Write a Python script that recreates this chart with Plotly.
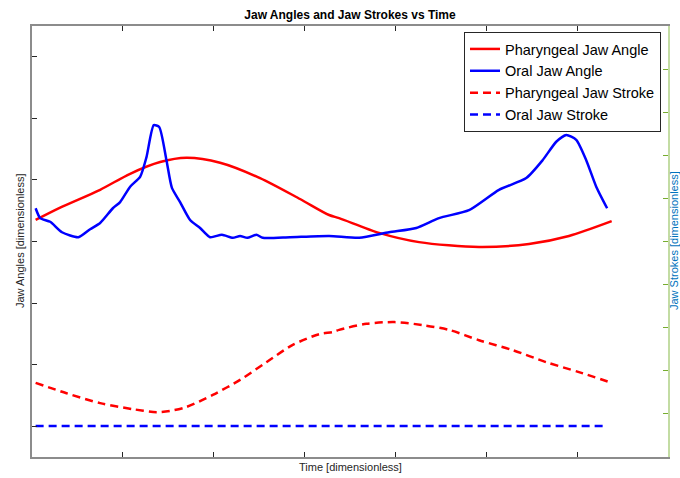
import plotly.graph_objects as go

# Time in tick units (ticks at 1..6)
t_pha = [0.04, 0.31, 0.75, 1.08, 1.41, 1.70, 2.07, 2.51, 2.95, 3.27, 3.38, 3.82, 4.26, 4.92, 5.47, 5.91, 6.38]
pha_angle = [3.35, 3.55, 3.84, 4.10, 4.29, 4.36, 4.28, 4.03, 3.69, 3.43, 3.38, 3.14, 2.99, 2.91, 2.96, 3.09, 3.33]

t_oral = [0.04, 0.09, 0.20, 0.33, 0.51, 0.64, 0.75, 0.89, 0.97, 1.08, 1.19, 1.26, 1.34, 1.40, 1.48, 1.54,
          1.63, 1.74, 1.85, 1.96, 2.09, 2.21, 2.29, 2.37, 2.47, 2.54, 2.84, 3.27, 3.60, 3.93, 4.23, 4.48,
          4.81, 5.14, 5.44, 5.62, 5.77, 5.88, 5.99, 6.10, 6.21, 6.33]
oral_angle = [3.54, 3.38, 3.32, 3.15, 3.07, 3.20, 3.30, 3.54, 3.64, 3.89, 4.05, 4.37, 4.89, 4.86, 4.32, 3.87,
              3.64, 3.35, 3.22, 3.07, 3.11, 3.06, 3.09, 3.06, 3.11, 3.06, 3.07, 3.09, 3.06, 3.15, 3.22, 3.38,
              3.51, 3.84, 4.03, 4.32, 4.62, 4.73, 4.65, 4.32, 3.89, 3.54]

t_pstroke = [0.04, 0.38, 0.75, 1.11, 1.37, 1.52, 1.70, 1.99, 2.29, 2.58, 2.87, 3.16, 3.31, 3.38, 3.68, 3.99,
             4.30, 4.59, 4.92, 5.29, 5.66, 6.02, 6.38]
pha_stroke = [1.72, 1.48, 1.25, 1.11, 1.04, 1.07, 1.16, 1.44, 1.79, 2.20, 2.60, 2.85, 2.90, 2.95, 3.09, 3.13,
              3.06, 2.95, 2.71, 2.48, 2.20, 1.97, 1.72]

t_ostroke = [0.04, 6.33]
oral_stroke = [0.72, 0.72]

FONT = "Liberation Sans, Arial, sans-serif"
RED = "#FF0000"
BLUE = "#0000FF"

fig = go.Figure()
fig.add_trace(go.Scatter(x=t_pha, y=pha_angle, mode="lines", name="Pharyngeal Jaw Angle",
                         line=dict(color=RED, width=2.5, shape="spline", smoothing=0.8)))
fig.add_trace(go.Scatter(x=t_oral, y=oral_angle, mode="lines", name="Oral Jaw Angle",
                         line=dict(color=BLUE, width=2.5, shape="spline", smoothing=0.6)))
fig.add_trace(go.Scatter(x=t_pstroke, y=pha_stroke, mode="lines", name="Pharyngeal Jaw Stroke", yaxis="y2",
                         line=dict(color=RED, width=2.5, dash="8px,5px", shape="spline", smoothing=0.8)))
fig.add_trace(go.Scatter(x=t_ostroke, y=oral_stroke, mode="lines", name="Oral Jaw Stroke", yaxis="y2",
                         line=dict(color=BLUE, width=2.5, dash="8px,5px")))

fig.update_layout(
    width=680, height=478,
    margin=dict(l=32, r=12, t=26, b=21, autoexpand=False),
    paper_bgcolor="white", plot_bgcolor="white",
    font=dict(family=FONT, color="#262626"),
    showlegend=True,
    title=dict(text="<b>Jaw Angles and Jaw Strokes vs Time</b>", x=(350 / 680), xanchor="center",
               y=1 - 15 / 478, yanchor="middle", font=dict(size=12, color="#000000", family=FONT)),
    xaxis=dict(range=[0, 7], tickvals=[1, 2, 3, 4, 5, 6], showticklabels=False, ticks="inside",
               ticklen=5, tickcolor="#262626", showgrid=False, zeroline=False, showline=True,
               linecolor="#8c8c8c", linewidth=1.5, mirror="ticks"),
    yaxis=dict(range=[-0.5, 6.5], tickvals=[0, 1, 2, 3, 4, 5, 6], showticklabels=False, ticks="inside",
               ticklen=5, tickcolor="#262626", showgrid=False, zeroline=False, showline=True,
               linecolor="#8c8c8c", linewidth=1.5),
    yaxis2=dict(range=[0, 10], tickvals=[1, 2, 3, 4, 5, 6, 7, 8, 9], showticklabels=False, ticks="inside",
                ticklen=5, tickcolor="#77AC30", showgrid=False, zeroline=False, showline=True,
                linecolor="#c3dca3", linewidth=1.5, overlaying="y", side="right"),
    legend=dict(x=(661 - 32) / 636, y=(457 - 32) / 431, xanchor="right", yanchor="top",
                bgcolor="white", bordercolor="#262626", borderwidth=1,
                font=dict(size=14.5, color="#000000", family=FONT), tracegroupgap=0),
    annotations=[
        dict(text="Time [dimensionless]", xref="paper", yref="paper", x=(350 - 32) / 636,
             y=(457 - 467) / 431, xanchor="center", yanchor="middle", showarrow=False,
             font=dict(size=11, color="#262626", family=FONT)),
        dict(text="Jaw Angles [dimensionless]", xref="paper", yref="paper", x=(20 - 32) / 636,
             y=(457 - 241) / 431, xanchor="center", yanchor="middle", showarrow=False, textangle=-90,
             font=dict(size=11, color="#262626", family=FONT)),
        dict(text="Jaw Strokes [dimensionless]", xref="paper", yref="paper", x=(674 - 32) / 636,
             y=(457 - 241) / 431, xanchor="center", yanchor="middle", showarrow=False, textangle=-90,
             font=dict(size=11, color="#0072BD", family=FONT)),
    ],
)

fig.write_html("out.html", config={"displayModeBar": False},
               post_script="document.body.style.margin='0';document.body.style.overflow='hidden';")
